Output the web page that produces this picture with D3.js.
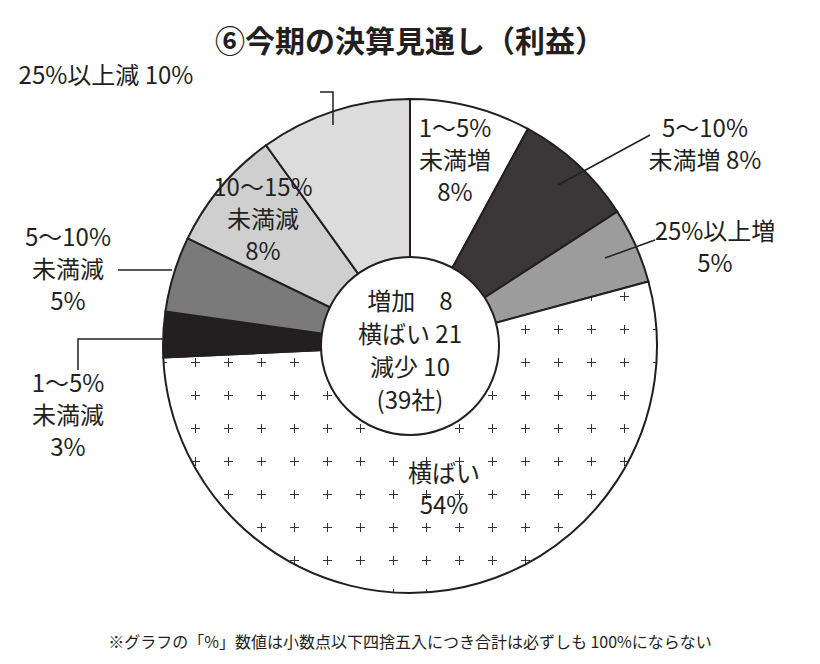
<!DOCTYPE html><html><head><meta charset="utf-8"><script src="https://cdn.jsdelivr.net/npm/d3@7"></script>
<style>body{margin:0;background:#fff}text{font-family:"Noto Sans CJK JP";fill:#231f20}</style></head><body>
<svg id="c" width="820" height="664"></svg>
<script>
const categories=["1～5%未満増","5～10%未満増","25%以上増","横ばい","1～5%未満減","5～10%未満減","10～15%未満減","25%以上減"];
const values=[8,8,5,54,3,5,8,10];
const colors=["#ffffff","#3b3637","#9c9c9c","#ffffff","#231f20","#7a7a7a","#cfcfcf","#dcdcdc"];
const centerLines=["増加　8","横ばい 21","減少 10","(39社)"];
const svg=d3.select("#c");
const defs=svg.append("defs");
const p=defs.append("pattern").attr("id","plus").attr("width",33).attr("height",33).attr("patternUnits","userSpaceOnUse");
p.append("rect").attr("width",33).attr("height",33).attr("fill","#fff");
p.append("path").attr("d","M12,16.5h9M16.5,12v9").attr("stroke","#333").attr("stroke-width",1);
const cx=410,cy=346,R=247,r=89;
svg.append("text").attr("x",410).attr("y",52).attr("text-anchor","middle").attr("font-size",30).attr("font-weight","bold").text("⑥今期の決算見通し（利益）");
const g=svg.append("g").attr("transform",`translate(${cx},${cy})`);
const pie=d3.pie().sort(null).value(d=>d)(values);
const arc=d3.arc().innerRadius(0).outerRadius(R);
g.selectAll("path").data(pie).join("path").attr("d",arc).attr("fill",(d,i)=>i==3?"url(#plus)":colors[i]).attr("stroke","#231f20").attr("stroke-width",2);
g.append("circle").attr("r",r).attr("fill","#fff").attr("stroke","#231f20").attr("stroke-width",2);
const fs=24;
function lab(x,y,lines,anchor){const t=svg.append("text").attr("x",x).attr("y",y).attr("text-anchor",anchor||"middle").attr("font-size",fs);
lines.forEach((l,i)=>t.append("tspan").attr("x",x).attr("dy",i?32:0).text(l));}
centerLines.forEach((l,i)=>svg.append("text").attr("x",cx).attr("y",cy-36+i*33).attr("text-anchor","middle").attr("font-size",24).text(l));
lab(455,137,["1～5%","未満増","8%"]);
lab(705,137,["5～10%","未満増 8%"]);
lab(715,240,["25%以上増","5%"]);
lab(444,482,["横ばい","54%"]);
lab(68,246,["5～10%","未満減","5%"]);
lab(68,392,["1～5%","未満減","3%"]);
lab(263,196,["10～15%","未満減","8%"]);
lab(106,84,["25%以上減 10%"]);
const L=(pts)=>svg.append("path").attr("d",d3.line()(pts)).attr("fill","none").attr("stroke","#231f20").attr("stroke-width",1.5);
L([[558,185],[650,135]]);
L([[605,258],[655,240]]);
L([[118,270],[172,270]]);
L([[78,370],[78,339],[165,339]]);
L([[320,92],[333,92],[333,125]]);
svg.append("text").attr("x",410).attr("y",648).attr("text-anchor","middle").attr("font-size",16).text("※グラフの「%」数値は小数点以下四捨五入につき合計は必ずしも 100%にならない");
</script></body></html>
